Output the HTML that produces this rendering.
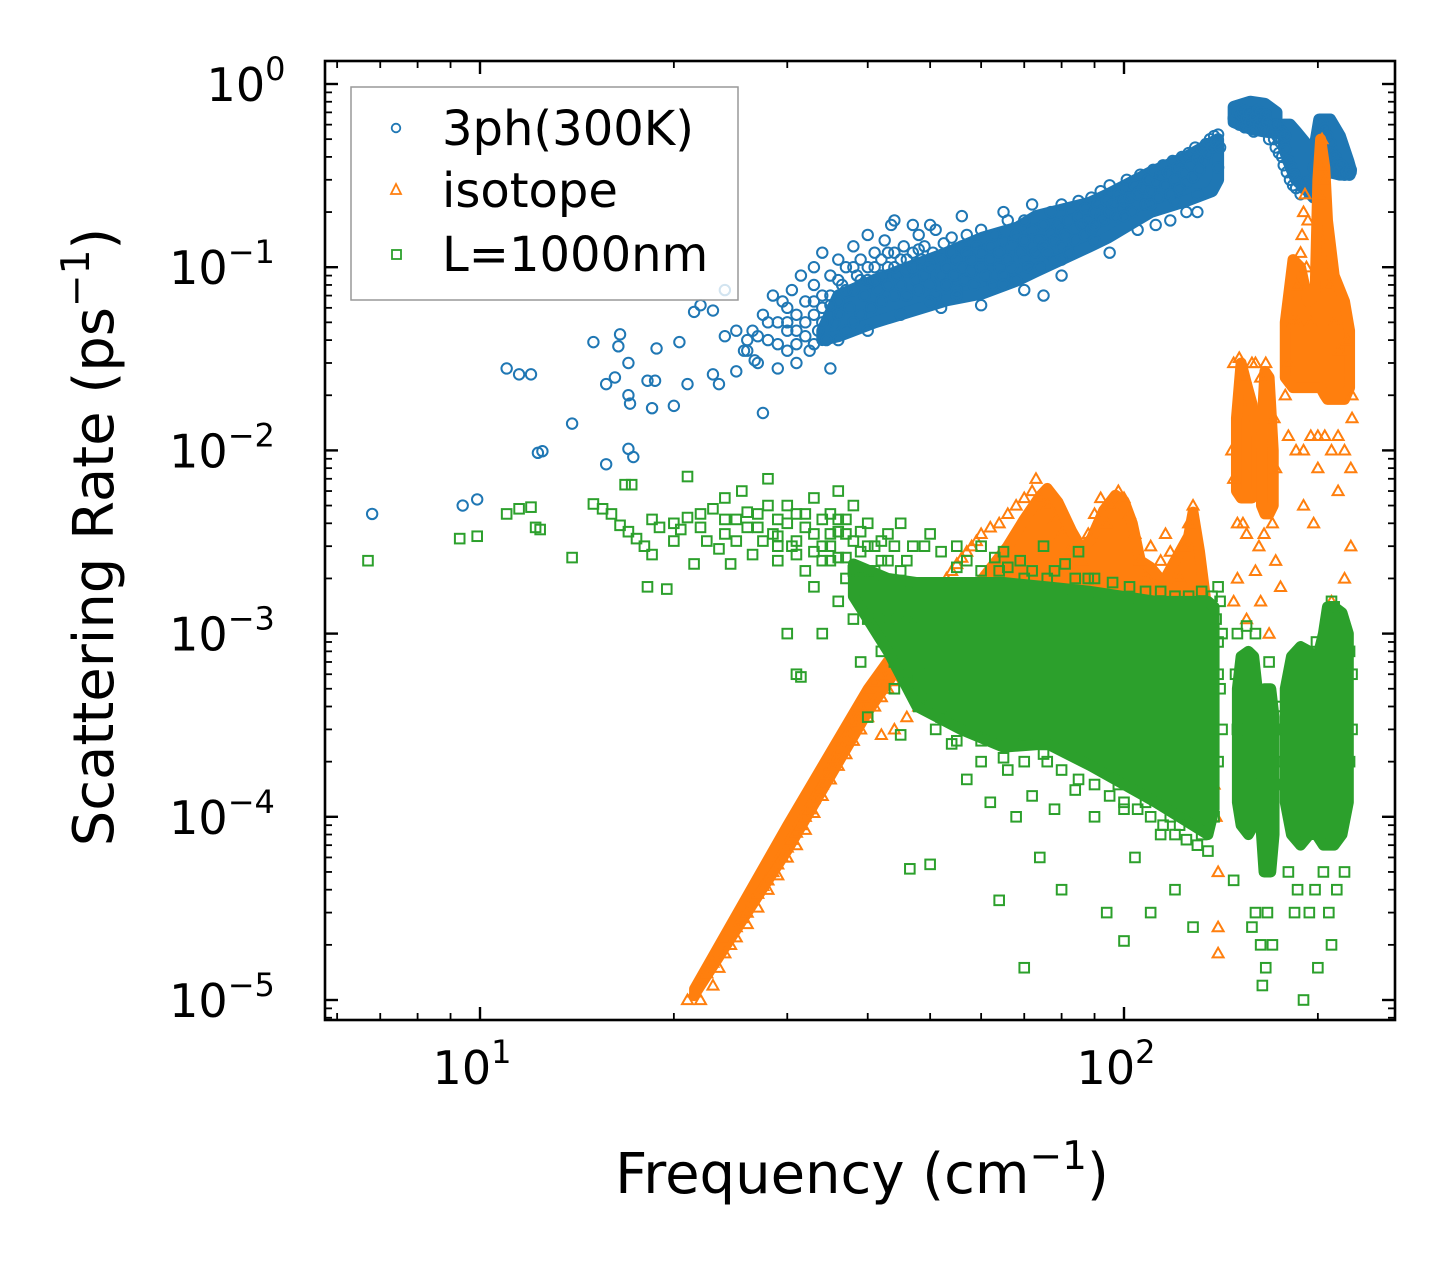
<!DOCTYPE html>
<html><head><meta charset="utf-8">
<style>
html,body{margin:0;padding:0;background:#fff;}
svg{display:block;font-family:"DejaVu Sans","Liberation Sans",sans-serif;}
</style></head>
<body>
<svg id="chart" width="1455" height="1268" viewBox="0 0 1455 1268" xmlns="http://www.w3.org/2000/svg" style="position:absolute;left:0;top:0">
<rect x="0" y="0" width="1455" height="1268" fill="#fff"/>
<g id="marks"></g>
<g id="axes"></g>
</svg>
<script>
const xMajorTicks = [10, 100];
const xTickLabels = ["1", "2"];
const yMajorTicks = [1, 0.1, 0.01, 0.001, 0.0001, 0.00001];
const yTickLabels = ["0", "\u22121", "\u22122", "\u22123", "\u22124", "\u22125"];

// dense-region envelopes (frequency, lower rate, upper rate)
const blueBandFreq = [34, 36, 41, 53.1, 60.3, 68.4, 73, 88.5, 94.4, 110, 125, 137, 140];
const blueBandHigh = [0.045, 0.07, 0.085, 0.12, 0.145, 0.165, 0.19, 0.225, 0.25, 0.33, 0.4, 0.48, 0.5];
const blueBandLow = [0.04, 0.042, 0.05, 0.066, 0.072, 0.085, 0.095, 0.13, 0.145, 0.2, 0.23, 0.26, 0.3];
const blueCapFreq = [148, 157, 165.4, 172.5];
const blueCapHigh = [0.75, 0.8, 0.78, 0.7];
const blueCapLow = [0.62, 0.57, 0.55, 0.54];
const blueRightFreq = [177, 181, 185, 191, 197, 201, 209, 216.4, 223, 225];
const blueRightHigh = [0.6, 0.6, 0.55, 0.48, 0.42, 0.64, 0.64, 0.52, 0.38, 0.34];
const blueRightLow = [0.45, 0.36, 0.3, 0.27, 0.24, 0.3, 0.33, 0.32, 0.32, 0.33];

const orangeDiagFreq = [21.5, 30, 40, 47];
const orangeDiagHigh = [1.15e-5, 9e-5, 5e-4, 1.1e-3];
const orangeDiagLow = [1.05e-5, 6.5e-5, 3.7e-4, 8.5e-4];
const orangePeakFreq = [56, 61, 66, 70, 74, 76, 79, 83, 86, 89, 93, 97, 100, 103, 106, 110, 115, 120, 126, 128, 131, 134];
const orangePeakHigh = [1.4e-3, 2.1e-3, 3.0e-3, 4.2e-3, 5.6e-3, 6.2e-3, 5.2e-3, 3.6e-3, 2.9e-3, 3.3e-3, 4.7e-3, 5.7e-3, 5.3e-3, 4.0e-3, 2.5e-3, 2.3e-3, 1.9e-3, 2.5e-3, 3.4e-3, 4.6e-3, 2.8e-3, 1.5e-3];
const orangePeakLow = [1e-3, 1e-3, 1e-3, 1e-3, 1e-3, 1e-3, 1e-3, 1e-3, 1e-3, 1e-3, 1e-3, 1e-3, 1e-3, 1e-3, 1e-3, 1e-3, 1e-3, 9e-4, 9e-4, 8e-4, 7e-4, 6e-4];
const orangeSpikeAFreq = [149.5, 152, 155, 158, 161];
const orangeSpikeAHigh = [0.015, 0.03, 0.023, 0.018, 0.012];
const orangeSpikeALow = [6e-3, 5.5e-3, 5.5e-3, 5.5e-3, 6e-3];
const orangeSpikeBFreq = [163.5, 165.5, 168, 170.5];
const orangeSpikeBHigh = [0.012, 0.027, 0.025, 0.01];
const orangeSpikeBLow = [5e-3, 4.5e-3, 4.5e-3, 5e-3];
const orangeBigFreq = [178, 183, 188, 193, 198, 200, 202, 205, 207, 212, 220, 224];
const orangeBigHigh = [0.05, 0.11, 0.1, 0.065, 0.07, 0.3, 0.5, 0.35, 0.18, 0.09, 0.065, 0.045];
const orangeBigLow = [0.025, 0.022, 0.022, 0.022, 0.022, 0.022, 0.022, 0.02, 0.019, 0.019, 0.019, 0.022];

const greenCoreFreq = [38, 43, 47.7, 55.8, 65, 76, 88.7, 112, 135, 138];
const greenCoreHigh = [2.4e-3, 2.0e-3, 1.9e-3, 1.9e-3, 1.9e-3, 1.8e-3, 1.7e-3, 1.5e-3, 1.5e-3, 1.4e-3];
const greenCoreLow = [1.6e-3, 8e-4, 4e-4, 3e-4, 2.4e-4, 2.5e-4, 1.9e-4, 1.2e-4, 8e-5, 1.1e-4];
const greenCol1Freq = [150, 152, 156, 159, 161];
const greenCol1High = [5e-4, 7.5e-4, 8e-4, 7.5e-4, 5e-4];
const greenCol1Low = [1.2e-4, 9e-5, 8e-5, 9e-5, 1.2e-4];
const greenCol2Freq = [163.5, 165, 169, 171];
const greenCol2High = [3.5e-4, 5e-4, 5e-4, 3.5e-4];
const greenCol2Low = [8e-5, 5e-5, 5e-5, 8e-5];
const greenCol3Freq = [178, 182, 188, 194, 199, 204, 207, 212, 218, 223];
const greenCol3High = [5e-4, 7.5e-4, 8.5e-4, 8e-4, 7e-4, 1.0e-3, 1.4e-3, 1.4e-3, 1.3e-3, 1.0e-3];
const greenCol3Low = [1.2e-4, 8e-5, 7e-5, 8e-5, 8e-5, 7e-5, 7e-5, 7e-5, 8e-5, 1.2e-4];

const blueData = [
[6.8,4.5e-3],[9.4,5.0e-3],[9.9,5.4e-3],[11,0.028],[11.5,0.026],[12,0.026],[12.3,0.0097],[12.5,0.0099],[13.9,0.014],
[15,0.039],[16.5,0.043],[16.4,0.037],[15.7,0.023],[16.2,0.025],[17,0.030],[15.7,0.0084],[17,0.0102],[17.3,0.0092],
[17,0.020],[17.1,0.018],[18.2,0.024],[18.7,0.024],[18.5,0.017],[18.8,0.036],[20,0.0175],[21,0.023],[27.5,0.016],
[20.4,0.039],[21.5,0.057],[22,0.062],[23,0.058],[24,0.075],[23,0.026],[23.5,0.023],[25,0.027],[26.7,0.031],[25.7,0.035],
[26,0.035],[26.5,0.045],[27,0.03],[27.5,0.055],[28,0.04],[28.5,0.07],[29,0.028],[29,0.05],[30,0.035],[30,0.06],[30.5,0.075],
[31,0.03],[31,0.045],[31.5,0.09],[32,0.05],[32,0.065],[32.5,0.035],[33,0.08],[33,0.1],[33.5,0.045],[34,0.06],[34,0.12],
[34.5,0.04],[35,0.07],[35,0.09],[35.5,0.05],[36,0.11],[36,0.065],[36.5,0.08],[37,0.045],[37,0.1],[37.5,0.06],[38,0.13],
[38,0.075],[38.5,0.09],[39,0.055],[39,0.11],[39.5,0.07],[40,0.15],[40,0.085],[40.5,0.06],[41,0.1],[41,0.12],[41.5,0.075],
[42,0.09],[42,0.065],[42.5,0.14],[43,0.1],[43,0.08],[43.5,0.17],[44,0.07],[44,0.12],[44.5,0.09],[45,0.11],[45,0.08],
[45.5,0.13],[46,0.095],[46,0.07],[47,0.12],[47,0.1],[47.5,0.085],[48,0.15],[48,0.075],[48.5,0.11],[49,0.09],[49,0.13],
[50,0.1],[50,0.08],[50.5,0.12],[51,0.16],[51,0.07],[52,0.11],[52,0.09],[52.5,0.135],[53,0.1],[53,0.08],[54,0.12],[54,0.145],
[54.5,0.09],[55,0.11],[55,0.075],[56,0.13],[56,0.1],[56.5,0.085],[57,0.12],[57,0.15],[58,0.095],[58,0.11],[58.5,0.08],
[59,0.13],[60,0.1],[60,0.12],[60,0.16],[61,0.09],[62,0.13],[62,0.11],[62.5,0.08],[63,0.15],[64,0.1],[64,0.12],[65,0.14],
[65,0.09],[66,0.18],[66,0.11],[67,0.13],[67,0.1],[68,0.15],[68,0.085],[69,0.12],[70,0.14],[70,0.11],[70,0.18],[71,0.1],
[72,0.13],[72,0.16],[73,0.12],[74,0.14],[74,0.1],[75,0.17],[75,0.13],[76,0.12],[77,0.15],[77,0.2],[78,0.14],[78,0.11],
[79,0.17],[80,0.13],[80,0.16],[80,0.22],[81,0.15],[82,0.18],[82,0.12],[83,0.2],[84,0.16],[84,0.14],[85,0.19],[85,0.23],
[86,0.17],[87,0.15],[87,0.21],[88,0.18],[89,0.24],[89,0.16],[90,0.2],[90,0.17],[91,0.22],[92,0.19],[92,0.26],[93,0.18],
[94,0.23],[95,0.2],[95,0.28],[96,0.22],[97,0.19],[98,0.25],[99,0.21],[100,0.27],[100,0.23],[101,0.3],[102,0.24],[103,0.2],
[104,0.28],[105,0.25],[106,0.32],[107,0.27],[108,0.22],[109,0.3],[110,0.26],[111,0.34],[112,0.29],[113,0.24],[114,0.32],
[115,0.36],[116,0.28],[117,0.33],[118,0.25],[119,0.38],[120,0.3],[121,0.35],[122,0.27],[123,0.4],[124,0.33],[125,0.29],
[126,0.42],[127,0.36],[128,0.31],[129,0.45],[130,0.39],[131,0.34],[132,0.44],[133,0.38],[134,0.47],[135,0.42],[136,0.5],
[137,0.45],[138,0.52],[139,0.48],[140,0.53],
[60,0.062],[70,0.075],[75,0.07],[80,0.09],[95,0.12],[105,0.16],[112,0.17],[118,0.18],[125,0.2],[130,0.2],[40,0.045],
[35,0.028],[45,0.055],[52,0.06],[44,0.18],[47,0.17],[50,0.17],[56,0.19],[65,0.2],[72,0.22],
[148,0.65],[150,0.7],[151,0.6],[152,0.68],[153,0.72],[154,0.58],[155,0.65],[156,0.7],[157,0.62],[158,0.68],[159,0.55],
[160,0.66],[161,0.72],[162,0.6],[163,0.7],[164,0.64],[165,0.58],[166,0.68],[167,0.62],[168,0.5],[170,0.55],[171,0.5],
[172,0.45],[173,0.52],[174,0.42],[175,0.48],[176,0.4],[177,0.36],[178,0.44],[179,0.33],[180,0.38],[181,0.3],[182,0.35],
[183,0.28],[184,0.32],[185,0.27],[186,0.3],[188,0.25],[190,0.27],[192,0.29],[195,0.3],[197,0.35],[199,0.4],[200,0.55],
[201,0.6],[202,0.5],[203,0.62],[204,0.45],[205,0.57],[206,0.4],[207,0.52],[208,0.36],[209,0.48],[210,0.42],[211,0.38],
[212,0.35],[213,0.4],[214,0.33],[215,0.37],[216,0.34],[218,0.36],[220,0.32],[222,0.33],[224,0.32],[225,0.34],
[174,0.6],[176,0.55],[178,0.52],[172,0.6],
[25,0.045],[27,0.042],[29,0.038],[30,0.045],[31,0.055],[32,0.042],[29.5,0.065],[33,0.065],[34,0.05],[36,0.055],
[33,0.055],[34,0.07],[35,0.062],[36,0.085],[37,0.075],[38,0.1],[39,0.085],[40,0.1],[41,0.085],[42,0.11],[43,0.12],
[44,0.1],[46,0.11],[48,0.125],[33,0.038],[31,0.038],[30,0.05],[28,0.05],[26,0.04],[24,0.042],[36,0.04],[38,0.05],
[50,0.065],[55,0.07],[65,0.08],[80,0.11],[100,0.19],[120,0.23],[90,0.14],[110,0.22],[130,0.25],[140,0.35],[141,0.45]
];

const orangeData = [
[21,1.0e-5],[21.5,1.1e-5],[22,1.3e-5],[22,1.0e-5],[22.5,1.4e-5],[23,1.2e-5],[23,1.6e-5],[23.5,1.5e-5],[24,1.8e-5],[24,2.2e-5],
[24.5,2.0e-5],[25,2.5e-5],[25,2.2e-5],[25.5,2.8e-5],[26,3.0e-5],[26,2.6e-5],[26.5,3.5e-5],[27,3.8e-5],[27,3.2e-5],[27.5,4.2e-5],
[28,4.5e-5],[28,4.0e-5],[28.5,5.0e-5],[29,5.5e-5],[29,4.8e-5],[29.5,6.0e-5],[30,6.8e-5],[30,6.0e-5],[30.5,7.5e-5],[31,8.2e-5],
[31,7.0e-5],[31.5,9e-5],[32,1.0e-4],[32,8.5e-5],[32.5,1.1e-4],[33,1.25e-4],[33,1.05e-4],[33.5,1.4e-4],[34,1.5e-4],[34,1.3e-4],
[34.5,1.7e-4],[35,1.9e-4],[35,1.6e-4],[35.5,2.1e-4],[36,2.3e-4],[36,1.9e-4],[36.5,2.5e-4],[37,2.8e-4],[37,2.2e-4],[37.5,3.0e-4],
[38,3.3e-4],[38,2.6e-4],[38.5,3.6e-4],[39,4.0e-4],[39,3.0e-4],[39.5,4.5e-4],[40,5e-4],[40,3.5e-4],[41,5.5e-4],[41,4.0e-4],
[42,6e-4],[42,4.5e-4],[43,7e-4],[43,5e-4],[44,8e-4],[44,5.5e-4],[45,9e-4],[45,6.5e-4],[46,1.0e-3],[46,7e-4],[47,1.1e-3],
[47,8e-4],[48,1.2e-3],[48,9e-4],[49,1.3e-3],[49,1.0e-3],[50,1.5e-3],[50,1.1e-3],[51,1.6e-3],[52,1.8e-3],[52,1.2e-3],[53,2.0e-3],
[54,2.2e-3],[54,1.4e-3],[55,2.4e-3],[56,2.6e-3],[56,1.6e-3],[57,2.8e-3],[58,3.0e-3],[58,1.8e-3],[59,3.2e-3],[60,3.5e-3],
[62,3.8e-3],[64,4.0e-3],[66,4.5e-3],[68,5e-3],[70,5.5e-3],[72,6e-3],[73,7e-3],[74,5.5e-3],[76,5e-3],[78,4.2e-3],[80,3.5e-3],
[82,2.8e-3],[84,2.2e-3],[86,2.5e-3],[88,3.5e-3],[90,4.5e-3],[92,5.5e-3],[94,4.0e-3],[96,5e-3],[98,6e-3],[100,5.5e-3],
[102,4.5e-3],[104,3.5e-3],[106,2.5e-3],[108,2.0e-3],[110,3.0e-3],[112,1.8e-3],[114,2.5e-3],[116,3.5e-3],[118,2.8e-3],
[122,2.0e-3],[124,3.0e-3],[126,4.0e-3],[128,5e-3],[130,1.5e-3],[132,1.0e-3],[134,6e-4],[136,4e-4],[137,2.5e-4],[138,1.5e-4],
[139,1.0e-4],[140,5e-5],[140,2.5e-5],[140,1.8e-5],[42,2.8e-4],[44,3e-4],[46,3.5e-4],[48,4e-4],
[148,1.5e-3],[150,2e-3],[155,1.2e-3],[160,2.2e-3],[163,1.5e-3],[168,1e-3],[170,4e-3],[172,2.5e-3],[175,1.8e-3],
[148,3e-2],[151,3.2e-2],[154,2.5e-2],[160,3e-2],[163,2.5e-2],[150,4e-3],[153,4e-3],[155,3.5e-3],[162,3e-3],[165,3.5e-3],
[186,5e-2],[187,8e-2],[188,0.12],[189,0.15],[190,0.2],[191,0.25],[193,0.18],[201,0.25],[202,0.35],[203,0.5],[204,0.3],
[226,0.02],[226,0.015],[200,8e-3],[215,6e-3],[225,3e-3],[190,5e-3],[197,4e-3],[210,1.5e-3],[220,2e-3],[185,0.01],[220,0.01],
[195,0.012],[205,0.012],[210,0.01],[190,0.01],[215,0.012],[200,0.012],[225,0.008],[180,0.012],
[180,0.03],[183,0.05],[185,0.08],[192,0.1],[195,0.05],[208,0.08],[212,0.05],[216,0.035],[222,0.04],[178,0.02],[147,0.01],
[148,7e-3],[172,8e-3],[171,0.015],[158,0.03],[166,0.03]
];

const greenData = [
[6.7,2.5e-3],[9.3,3.3e-3],[9.9,3.4e-3],[11,4.5e-3],[11.5,4.8e-3],[12,4.9e-3],[12.2,3.8e-3],[12.4,3.7e-3],[13.9,2.6e-3],
[15,5.1e-3],[15.5,4.8e-3],[16,4.5e-3],[16.5,3.9e-3],[16.8,6.5e-3],[17.2,6.5e-3],[17,3.6e-3],[17.5,3.3e-3],[18,3.0e-3],
[18.5,2.7e-3],[18.2,1.8e-3],[19.5,1.75e-3],[18.5,4.2e-3],[19,3.8e-3],[20,4.0e-3],[20.5,3.7e-3],[21,4.3e-3],[21,7.2e-3],
[21.5,2.4e-3],[22,4.5e-3],[22.5,3.2e-3],[23,4.8e-3],[23.5,2.9e-3],[24,5.5e-3],[24,3.5e-3],[24.5,2.4e-3],[25,4.2e-3],
[25.5,6e-3],[26,3.8e-3],[26.5,2.7e-3],[27,4.5e-3],[27.5,3.2e-3],[28,7e-3],[28,5e-3],[28.5,3.5e-3],[29,2.5e-3],[29,4.2e-3],
[30,5e-3],[30,1.0e-3],[30.5,3.0e-3],[31,6e-4],[31.5,5.8e-4],[31,4.5e-3],[32,2.2e-3],[32,3.8e-3],[33,5.5e-3],[33,1.8e-3],
[34,3.0e-3],[34,1.0e-3],[35,4.5e-3],[35,2.5e-3],[36,6e-3],[36,1.5e-3],[37,3.5e-3],[37,2.0e-3],[38,5e-3],[38,1.2e-3],
[39,2.8e-3],[39,7e-4],[40,4e-3],[40,2.2e-3],[40,3.5e-4],[41,1.5e-3],[41,3e-3],[42,2.5e-3],[42,8e-4],[43,3.5e-3],[43,1.2e-3],
[44,5e-4],[45,4e-3],[45,2.8e-4],[46,2.5e-3],[47,3e-3],[48,4e-4],[46.5,5.2e-5],[49,3e-3],[50,5.5e-5],[51,3e-4],[52,2.8e-3],
[54,2.5e-4],[57,1.6e-4],[59,3e-4],[60,2e-4],[62,1.2e-4],[64,2.2e-3],[64,3.5e-5],[66,1.8e-4],[68,1.0e-4],[70,2.0e-3],
[70,2.5e-4],[70,1.5e-5],[72,1.3e-4],[74,6e-5],[76,2.0e-3],[76,2e-4],[78,1.1e-4],[80,4e-5],[84,1.4e-4],[88,2.0e-3],[90,1.0e-4],
[94,3e-5],[98,1.5e-4],[100,1.2e-4],[100,2.1e-5],[104,6e-5],[108,1.2e-4],[110,3e-5],[112,1.5e-4],[114,8e-5],[118,1.0e-4],
[120,4e-5],[122,9e-5],[126,1.0e-4],[128,2.5e-5],[130,1.2e-4],[132,8e-5],[138,1.0e-4],[140,1.8e-3],[142,1.0e-3],
[50,3.5e-3],[55,3e-3],[60,3e-3],[65,2.8e-3],[75,3e-3],[85,2.8e-3],[63,2.6e-3],[69,2.5e-3],[81,2.4e-3],[57,2.5e-3],
[141,1.5e-3],[141,5e-4],[142,3e-4],[140,2e-4],[33,2.8e-3],[35,3.5e-3],[37,2.6e-3],[39,3.6e-3],[36,4.2e-3],[38,3.2e-3],
[31,3.2e-3],[29,3.4e-3],[27,3.8e-3],[25,3.2e-3],
[148,4.5e-5],[158,2.5e-5],[160,3e-5],[163,2e-5],[164,1.2e-5],[167,3e-5],[150,1e-3],[155,1.1e-3],[160,1e-3],
[168,7e-4],[170,2e-5],[166,1.5e-5],[184,3e-5],[190,1e-5],[198,4e-5],[200,1.5e-5],[204,5e-5],[180,5e-5],[186,4e-5],
[194,3e-5],[208,3e-5],[214,4e-5],[220,5e-5],[210,2e-5],[176,3e-4],[226,6e-4],[226,3e-4],[210,1.5e-3],[212,1.4e-3],
[30,4e-3],[32,4.5e-3],[33,3.5e-3],[34,4.2e-3],[35,3e-3],[36,3.6e-3],[37,4.2e-3],[38,2.2e-3],[39,2e-3],[40,3e-3],
[41,2.2e-3],[42,3.2e-3],[43,2.5e-3],[44,1.6e-3],[44,3.0e-3],[45,2.2e-3],[46,1.3e-3],[47,1.1e-3],[31,2.7e-3],[29,3e-3],
[26,4.6e-3],[24,4.2e-3],[22,3.8e-3],[20,3.2e-3],[36,2.6e-3],[34,2.5e-3],[40,1.2e-3],[42,1.0e-3],[44,7e-4],[46,5.5e-4],
[48,6e-4],[50,4.5e-4],[52,3.5e-4],[55,2.6e-4],[60,2.6e-4],[65,2.1e-4],[70,2e-4],[75,2.2e-4],[80,1.8e-4],[85,1.6e-4],
[90,1.5e-4],[95,1.3e-4],[100,1.1e-4],[105,1.1e-4],[110,1e-4],[115,9e-5],[120,8e-5],[125,7.5e-5],[130,7e-5],[135,6.5e-5],
[55,2.3e-3],[60,2.2e-3],[66,2.3e-3],[72,2.2e-3],[78,2.2e-3],[84,2.0e-3],[90,2.0e-3],[96,1.9e-3],[102,1.8e-3],[108,1.7e-3],
[114,1.7e-3],[120,1.6e-3],[126,1.6e-3],[132,1.7e-3],[137,1.6e-3],[139,1.2e-3],[140,9e-4],[140,6e-4],
[149,6e-4],[150,3e-4],[162,4e-4],[162,1.5e-4],[172,3e-4],[172,1.5e-4],[175,4e-4],[177,2e-4],[199,9e-4],[224,8e-4],[224,2e-4]
];

const NS = "http://www.w3.org/2000/svg";
const L = 325, R = 1395, T = 61, B = 1020;
const X10 = 480, XDEC = 644;
const Y1 = 84, YDEC = 183.2;
function xs(f){ return X10 + (Math.log10(f) - 1) * XDEC; }
function ys(r){ return Y1 - Math.log10(r) * YDEC; }
const blue = "#1f77b4", orange = "#ff7f0e", green = "#2ca02c";

function mk(tag, attrs, parent){
  const e = document.createElementNS(NS, tag);
  for (const k in attrs) e.setAttribute(k, attrs[k]);
  parent.appendChild(e);
  return e;
}
const marks = document.getElementById('marks');
const axes = document.getElementById('axes');
const SW = 2.0;
function circle(x, y, s, col, parent){
  return mk('circle', {cx:x, cy:y, r:s, fill:'none', stroke:col, 'stroke-width':SW}, parent);
}
function tri(x, y, s, col, parent){
  const h = s*1.1;
  return mk('polygon', {points:`${x},${y-h} ${x-h},${y+h*0.75} ${x+h},${y+h*0.75}`, fill:'none', stroke:col, 'stroke-width':SW}, parent);
}
function sq(x, y, s, col, parent){
  return mk('rect', {x:x-s, y:y-s, width:2*s, height:2*s, fill:'none', stroke:col, 'stroke-width':SW}, parent);
}
function band(freq, low, high, col, parent, pad){
  const pts = [];
  for (let i = 0; i < freq.length; i++) pts.push(xs(freq[i]) + ',' + ys(high[i]));
  for (let i = freq.length - 1; i >= 0; i--) pts.push(xs(freq[i]) + ',' + ys(low[i]));
  return mk('polygon', {points:pts.join(' '), fill:col, stroke:col, 'stroke-width':pad, 'stroke-linejoin':'round'}, parent);
}

const gB = mk('g', {}, marks);


let p;
p = band(blueBandFreq, blueBandLow, blueBandHigh, blue, gB, 12);


p = band(blueCapFreq, blueCapLow, blueCapHigh, blue, gB, 12);


p = band(blueRightFreq, blueRightLow, blueRightHigh, blue, gB, 12);


blueData.forEach(d => {
  const el = circle(xs(d[0]), ys(d[1]), 5.2, blue, gB);
  
  
});
const gO = mk('g', {}, marks);


p = band(orangeDiagFreq, orangeDiagLow, orangeDiagHigh, orange, gO, 10);


p = band(orangePeakFreq, orangePeakLow, orangePeakHigh, orange, gO, 11);


p = band(orangeSpikeAFreq, orangeSpikeALow, orangeSpikeAHigh, orange, gO, 11);


p = band(orangeSpikeBFreq, orangeSpikeBLow, orangeSpikeBHigh, orange, gO, 11);


p = band(orangeBigFreq, orangeBigLow, orangeBigHigh, orange, gO, 11);


orangeData.forEach(d => {
  const el = tri(xs(d[0]), ys(d[1]), 5.0, orange, gO);
  
  
});
const gG = mk('g', {}, marks);


p = band(greenCoreFreq, greenCoreLow, greenCoreHigh, green, gG, 11);


p = band(greenCol1Freq, greenCol1Low, greenCol1High, green, gG, 11);


p = band(greenCol2Freq, greenCol2Low, greenCol2High, green, gG, 11);


p = band(greenCol3Freq, greenCol3Low, greenCol3High, green, gG, 11);


greenData.forEach(d => {
  const el = sq(xs(d[0]), ys(d[1]), 4.8, green, gG);
  
  
});

const defs = mk('defs', {}, document.getElementById('chart'));
const cp = mk('clipPath', {id:'pc'}, defs);
mk('rect', {x:L, y:T, width:R-L, height:B-T}, cp);
marks.setAttribute('clip-path', 'url(#pc)');

const frame = mk('rect', {x:L, y:T, width:R-L, height:B-T, fill:'none', stroke:'#000', 'stroke-width':2.6}, axes);



const xMin = Math.pow(10, 1 + (L - X10)/XDEC), xMax = Math.pow(10, 1 + (R - X10)/XDEC);
for (let dec = 1; dec <= 1000; dec *= 10){
  for (let m = 1; m <= 9; m++){
    const v = m*dec;
    if (v < xMin || v > xMax) continue;
    const x = xs(v), len = (m === 1) ? 13 : 7, w = (m === 1) ? 2.4 : 1.8;
    mk('line', {x1:x, y1:B, x2:x, y2:B-len, stroke:'#000', 'stroke-width':w}, axes);
    mk('line', {x1:x, y1:T, x2:x, y2:T+len, stroke:'#000', 'stroke-width':w}, axes);
  }
}
xMajorTicks.forEach((v, i) => {
  const t = mk('text', {x:xs(v)-8, y:1084, 'font-size':46, 'text-anchor':'middle', fill:'#000'}, axes);
  
  
  t.textContent = '10';
  const s = mk('tspan', {dy:-21, 'font-size':32}, t);
  s.textContent = xTickLabels[i];
});
const yMinV = Math.pow(10, -(B - Y1)/YDEC), yMaxV = Math.pow(10, -(T - Y1)/YDEC);
for (let dec = 1e-6; dec <= 10; dec *= 10){
  for (let m = 1; m <= 9; m++){
    const v = m*dec;
    if (v < yMinV*0.999 || v > yMaxV) continue;
    const y = ys(v), len = (m === 1) ? 13 : 7, w = (m === 1) ? 2.4 : 1.8;
    mk('line', {x1:L, y1:y, x2:L+len, y2:y, stroke:'#000', 'stroke-width':w}, axes);
    mk('line', {x1:R, y1:y, x2:R-len, y2:y, stroke:'#000', 'stroke-width':w}, axes);
  }
}
yMajorTicks.forEach((v, i) => {
  const t = mk('text', {x:i===0?246:222, y:ys(v)+17, 'font-size':46, 'text-anchor':'middle', fill:'#000'}, axes);
  
  
  t.textContent = '10';
  const s = mk('tspan', {dy:-21, 'font-size':32}, t);
  s.textContent = yTickLabels[i];
});
</script>
<svg style="position:absolute;left:0;top:0" width="1455" height="1268">
  <g font-family="DejaVu Sans, Liberation Sans, sans-serif">
    <text x="862" y="1193" font-size="56" text-anchor="middle">Frequency (cm<tspan dy="-24" font-size="39">−1</tspan><tspan dy="24">)</tspan></text>
    <text transform="translate(113,537) rotate(-90)" font-size="56" text-anchor="middle">Scattering Rate (ps<tspan dy="-24" font-size="39">−1</tspan><tspan dy="24">)</tspan></text>
    <g>
      <rect x="351" y="87" width="387" height="213" fill="#fff" fill-opacity="0.8" stroke="#999" stroke-width="1.5"/>
      <g>
        <circle cx="396" cy="128" r="4.3" fill="none" stroke="#1f77b4" stroke-width="1.8"/>
        <text x="442" y="145" font-size="48">3ph(300K)</text>
      </g>
      <g>
        <polygon points="396,184 391,194 401,194" fill="none" stroke="#ff7f0e" stroke-width="1.8"/>
        <text x="442" y="207" font-size="48">isotope</text>
      </g>
      <g>
        <rect x="392" y="250" width="9" height="9" fill="none" stroke="#2ca02c" stroke-width="1.8"/>
        <text x="442" y="271" font-size="48">L=1000nm</text>
      </g>
    </g>
  </g>
</svg>
</body></html>
